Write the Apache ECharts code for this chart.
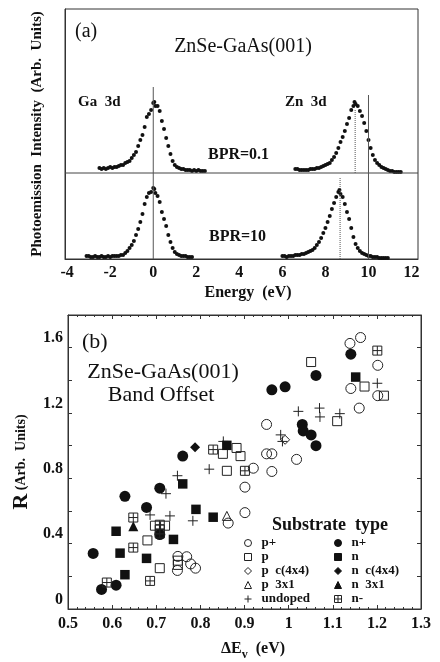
<!DOCTYPE html>
<html lang="en">
<head>
<meta charset="UTF-8">
<title>ZnSe-GaAs(001)</title>
<script src="https://cdn.jsdelivr.net/npm/echarts@6/dist/echarts.min.js"></script>
<style>
  html, body { margin: 0; padding: 0; background: #fff; }
  #main { width: 440px; height: 662px; }
</style>
</head>
<body>
<div id="main"></div>
<script>
// ---- (a) photoemission spectra: [energy (eV), intensity (arb. units)] ----
var ga3dBpr01 = [[-2.5,5],[-2.4,4],[-2.3,5],[-2.2,4],[-2.1,5],[-2.0,6],[-1.9,5],[-1.8,6],[-1.7,6],[-1.6,7],
  [-1.5,8],[-1.4,8],[-1.3,10],[-1.2,11],[-1.1,12],[-1.0,15],[-0.9,18],[-0.8,21],[-0.7,27],[-0.6,33],
  [-0.5,38],[-0.4,46],[-0.3,56],[-0.2,59],[-0.1,63],[0.0,70],[0.05,71],[0.1,67],[0.2,67],[0.3,62],
  [0.4,52],[0.5,44],[0.6,35],[0.7,27],[0.8,19],[0.9,12],[1.0,8],[1.1,6],[1.2,5],[1.3,4],
  [1.4,4],[1.5,3],[1.6,3],[1.7,3],[1.8,2],[1.9,3],[2.0,2],[2.1,3],[2.2,2],[2.3,2],[2.4,2]];
var zn3dBpr01 = [[6.6,4],[6.7,4],[6.8,3],[6.9,3],[7.0,3],[7.1,3],[7.2,3],[7.3,4],[7.4,4],[7.5,4],
  [7.6,5],[7.7,5],[7.8,6],[7.9,7],[8.0,8],[8.1,9],[8.2,10],[8.3,13],[8.4,16],[8.5,20],
  [8.6,25],[8.7,31],[8.8,36],[8.9,42],[9.0,49],[9.1,55],[9.2,63],[9.3,67],[9.35,71],[9.4,69],
  [9.5,67],[9.6,62],[9.7,57],[9.8,50],[9.9,42],[10.0,33],[10.1,25],[10.2,18],[10.3,13],[10.4,10],
  [10.5,8],[10.6,6],[10.7,5],[10.8,4],[10.9,3],[11.0,2],[11.1,2],[11.2,1],[11.3,1],[11.4,1],[11.5,1]];
var ga3dBpr10 = [[-3.1,3],[-3.0,3],[-2.9,2],[-2.8,2],[-2.7,3],[-2.6,2],[-2.5,2],[-2.4,3],[-2.3,2],[-2.2,2],
  [-2.1,3],[-2.0,2],[-1.9,3],[-1.8,3],[-1.7,3],[-1.6,3],[-1.5,4],[-1.4,4],[-1.3,6],[-1.2,8],
  [-1.1,11],[-1.0,14],[-0.9,18],[-0.8,24],[-0.7,30],[-0.6,37],[-0.5,45],[-0.4,55],[-0.3,62],[-0.2,66],
  [-0.1,67],[0.0,71],[0.05,70],[0.1,66],[0.2,63],[0.3,57],[0.4,47],[0.5,40],[0.6,33],[0.7,24],
  [0.8,17],[0.9,11],[1.0,7],[1.1,5],[1.2,4],[1.3,3],[1.4,3],[1.5,3],[1.6,2],[1.7,2],[1.8,2]];
var zn3dBpr10 = [[6.0,3],[6.1,3],[6.2,2],[6.3,3],[6.4,3],[6.5,3],[6.6,4],[6.7,4],[6.8,4],[6.9,5],
  [7.0,5],[7.1,6],[7.2,7],[7.3,8],[7.4,9],[7.5,11],[7.6,14],[7.7,17],[7.8,21],[7.9,26],
  [8.0,31],[8.1,37],[8.2,43],[8.3,50],[8.4,56],[8.5,62],[8.6,67],[8.65,69],[8.7,65],[8.8,62],
  [8.9,55],[9.0,47],[9.1,40],[9.2,31],[9.3,22],[9.4,15],[9.5,11],[9.6,8],[9.7,6],[9.8,5],
  [9.9,4],[10.0,3],[10.1,3],[10.2,2],[10.3,2],[10.4,2],[10.5,1],[10.6,1],[10.7,1],[10.8,1],[10.9,1]];
var bpr01Offset = 86;              // vertical offset of the BPR=0.1 spectra
var energyMin = -4.1, energyMax = 12.3, intensityMax = 250;
var energyLabels = [-4, -2, 0, 2, 4, 6, 8, 10, 12];
// [energy, from, to, line type]
var refLines = [[0, 0, 172, 'solid'], [10, 0, 164, 'solid'], [9.38, 86, 149, 'dotted'], [8.68, 0, 82, 'dotted']];

// ---- (b) R vs valence band offset: [dEv (eV), R (arb. units)] ----
var pPlus = [[0.749,0.322],[0.769,0.320],[0.748,0.236],[0.778,0.276],[0.789,0.250],[0.863,0.526],[0.901,0.590],
  [0.901,0.746],[0.920,0.862],[0.950,0.950],[0.962,0.950],[0.962,0.842],[0.950,1.130],[1.018,0.916],
  [1.139,1.626],[1.163,1.662],[1.202,1.492],[1.141,1.350],[1.160,1.230],[1.202,1.306]];
var pType = [[0.680,0.420],[0.708,0.250],[0.697,0.510],[0.720,0.510],[0.749,0.296],[0.749,0.270],[0.851,0.950],
  [0.882,0.986],[0.891,0.936],[0.860,0.846],[1.051,1.512],[1.110,1.150],[1.172,1.362],[1.216,1.306]];
var pC4x4 = [[0.992,1.036]];
var p3x1 = [[0.860,0.570]];
var undoped = [[0.686,0.576],[0.722,0.706],[0.731,0.570],[0.748,0.816],[0.783,0.540],[0.820,0.856],[0.852,1.026],
  [0.982,1.066],[0.986,1.026],[1.022,1.210],[1.070,1.230],[1.071,1.176],[1.116,1.196],[1.201,1.382]];
var nPlus = [[0.557,0.340],[0.576,0.120],[0.609,0.146],[0.629,0.690],[0.678,0.622],[0.708,0.740],[0.708,0.456],
  [0.760,0.936],[0.962,1.342],[0.992,1.360],[1.062,1.430],[1.141,1.560],[1.031,1.130],[1.033,1.090],
  [1.051,1.066],[1.062,1.000]];
var nType = [[0.609,0.476],[0.618,0.342],[0.629,0.210],[0.678,0.310],[0.739,0.426],[0.760,0.766],[0.790,0.610],
  [0.829,0.562],[0.860,1.002],[1.152,1.420]];
var nC4x4 = [[0.788,0.990]];
var n3x1 = [[0.648,0.506]];
var nMinus = [[0.588,0.162],[0.648,0.560],[0.648,0.376],[0.686,0.172],[0.708,0.516],[0.708,0.486],[0.708,0.462],
  [0.829,0.976],[0.901,0.846],[1.201,1.582]];
var rLabels = [0, 0.4, 0.8, 1.2, 1.6];

var serif = '"Liberation Serif", "DejaVu Serif", serif';
var ink = '#111';
var plusPath = 'path://M5,0L5,10M0,5L10,5';
var boxPlusPath = 'path://M0,0L10,0L10,10L0,10ZM5,0L5,10M0,5L10,5';

var myChart = echarts.init(document.getElementById('main'));

function spectrum(data, offset) {
  return {
    type: 'scatter', xAxisIndex: 0, yAxisIndex: 0, silent: true,
    symbol: 'circle', symbolSize: 4, itemStyle: { color: ink, opacity: 1 },
    data: data.map(function (p) { return [p[0], p[1] + offset]; })
  };
}

function marks(name, data, symbol, size, filled) {
  return {
    type: 'scatter', name: name, xAxisIndex: 1, yAxisIndex: 1, silent: true,
    symbol: symbol, symbolSize: size, data: data,
    itemStyle: filled ? { color: ink, borderColor: ink, borderWidth: 0, opacity: 1 }
                      : { color: 'rgba(255,255,255,0)', borderColor: '#222', borderWidth: 1, opacity: 1 }
  };
}

var series = [
  spectrum(ga3dBpr01, bpr01Offset), spectrum(zn3dBpr01, bpr01Offset),
  spectrum(ga3dBpr10, 0), spectrum(zn3dBpr10, 0),
  {
    type: 'line', xAxisIndex: 0, yAxisIndex: 0, silent: true, symbol: 'none',
    lineStyle: { color: '#444', width: 1 },
    data: [[energyMin, bpr01Offset], [energyMax, bpr01Offset]]
  }
];
refLines.forEach(function (l) {
  series.push({
    type: 'line', xAxisIndex: 0, yAxisIndex: 0, silent: true, symbol: 'none',
    lineStyle: { color: '#555', width: 1, type: l[3] },
    data: [[l[0], l[1]], [l[0], l[2]]]
  });
});
series.push(
  marks('p+', pPlus, 'circle', 10, false),
  marks('p', pType, 'rect', 9, false),
  marks('p  c(4x4)', pC4x4, 'diamond', 9, false),
  marks('p  3x1', p3x1, 'triangle', 9, false),
  marks('undoped', undoped, plusPath, 10, false),
  marks('n+', nPlus, 'circle', 11, true),
  marks('n', nType, 'rect', 9.5, true),
  marks('n  c(4x4)', nC4x4, 'diamond', 10, true),
  marks('n  3x1', n3x1, 'triangle', 10, true),
  marks('n-', nMinus, boxPlusPath, 9, false)
);

var legendBase = {
  orient: 'vertical', top: 536, padding: 0, itemGap: 0,
  itemWidth: 7, itemHeight: 7, selectedMode: false,
  itemStyle: { borderWidth: 1 },
  textStyle: { fontFamily: serif, fontWeight: 'bold', fontSize: 13, color: ink, lineHeight: 14, padding: [0, 0, 0, 5] }
};

function txt(x, y, text, font, align) {
  return {
    type: 'text', x: x, y: y, silent: true,
    style: { text: text, font: font, fill: ink, align: align, verticalAlign: 'middle',
             textAlign: align, textVerticalAlign: 'middle' }
  };
}

myChart.setOption({
  animation: false,
  grid: [
    { left: 65, right: 22, top: 9, bottom: 403, show: true, borderColor: '#333', borderWidth: 1 },
    { left: 68, right: 19, top: 315, bottom: 48, show: true, borderColor: '#333', borderWidth: 1 }
  ],
  xAxis: [
    {
      gridIndex: 0, type: 'value', min: energyMin, max: energyMax,
      axisLine: { show: true, onZero: false, lineStyle: { color: '#333' } },
      axisTick: { show: false }, splitLine: { show: false },
      axisLabel: { customValues: energyLabels, margin: 6, fontFamily: serif, fontWeight: 'bold', fontSize: 16, color: ink },
      name: 'Energy  (eV)', nameLocation: 'middle', nameGap: 26,
      nameTextStyle: { fontFamily: serif, fontWeight: 'bold', fontSize: 16, color: ink, padding: [0, 0, 0, 13] }
    },
    {
      gridIndex: 1, type: 'value', min: 0.5, max: 1.3, interval: 0.1, position: 'bottom',
      axisLine: { show: true, onZero: false, lineStyle: { color: '#333' } },
      axisTick: { show: true, inside: true, length: 4, lineStyle: { color: '#333' } },
      minorTick: { show: true, splitNumber: 5, length: 2, lineStyle: { color: '#333' } },
      splitLine: { show: false },
      axisLabel: { margin: 7, fontFamily: serif, fontWeight: 'bold', fontSize: 16, color: ink },
      name: '{a|ΔE}{s|v}{a|  (eV)}', nameLocation: 'middle', nameGap: 28,
      nameTextStyle: {
        padding: [0, 0, 0, 17],
        rich: {
          a: { fontFamily: serif, fontWeight: 'bold', fontSize: 16, color: ink },
          s: { fontFamily: serif, fontWeight: 'bold', fontSize: 12, color: ink, verticalAlign: 'bottom', padding: [12, 0, 0, 0] }
        }
      }
    },
    {
      gridIndex: 1, type: 'value', min: 0.5, max: 1.3, interval: 0.1, position: 'top',
      axisLine: { show: true, onZero: false, lineStyle: { color: '#333' } },
      axisTick: { show: true, inside: true, length: 4, lineStyle: { color: '#333' } },
      minorTick: { show: true, splitNumber: 5, length: 2, lineStyle: { color: '#333' } },
      splitLine: { show: false }, axisLabel: { show: false }
    }
  ],
  yAxis: [
    {
      gridIndex: 0, type: 'value', min: 0, max: intensityMax,
      axisLine: { show: true, onZero: false, lineStyle: { color: '#333' } },
      axisTick: { show: false }, axisLabel: { show: false }, splitLine: { show: false },
      name: 'Photoemission  Intensity  (Arb.  Units)', nameLocation: 'middle', nameGap: 20,
      nameTextStyle: { fontFamily: serif, fontWeight: 'bold', fontSize: 15, color: ink }
    },
    {
      gridIndex: 1, type: 'value', min: 0, max: 1.8, interval: 0.2,
      axisLine: { show: true, onZero: false, lineStyle: { color: '#333' } },
      axisTick: { show: true, inside: true, length: 4, lineStyle: { color: '#333' } },
      splitLine: { show: false },
      axisLabel: {
        margin: 5, verticalAlign: 'bottom', lineHeight: 19,
        fontFamily: serif, fontWeight: 'bold', fontSize: 16, color: ink,
        formatter: function (v) {
          for (var i = 0; i < rLabels.length; i++) {
            if (Math.abs(rLabels[i] - v) < 1e-6) return v === 0 ? '0' : v.toFixed(1);
          }
          return '';
        }
      },
      name: '{r|R}{u| (Arb.  Units)}', nameLocation: 'middle', nameGap: 29,
      nameTextStyle: {
        rich: {
          r: { fontFamily: serif, fontWeight: 'bold', fontSize: 22, color: ink },
          u: { fontFamily: serif, fontWeight: 'bold', fontSize: 14, color: ink }
        }
      }
    },
    {
      gridIndex: 1, type: 'value', min: 0, max: 1.8, interval: 0.2, position: 'right',
      axisLine: { show: true, onZero: false, lineStyle: { color: '#333' } },
      axisTick: { show: true, inside: true, length: 4, lineStyle: { color: '#333' } },
      splitLine: { show: false }, axisLabel: { show: false }
    }
  ],
  legend: [
    echarts.util.merge({ left: 244, data: ['p+', 'p', 'p  c(4x4)', 'p  3x1', 'undoped'] }, legendBase),
    echarts.util.merge({ left: 334, data: ['n+', 'n', 'n  c(4x4)', 'n  3x1', 'n-'] }, legendBase)
  ],
  graphic: [
    txt(75, 32, '(a)', '20px ' + serif, 'left'),
    txt(243, 47, 'ZnSe-GaAs(001)', '20px ' + serif, 'center'),
    txt(78, 102, 'Ga  3d', 'bold 15px ' + serif, 'left'),
    txt(285, 102, 'Zn  3d', 'bold 15px ' + serif, 'left'),
    txt(208, 155, 'BPR=0.1', 'bold 16px ' + serif, 'left'),
    txt(209, 237, 'BPR=10', 'bold 16px ' + serif, 'left'),
    txt(82, 342, '(b)', '22px ' + serif, 'left'),
    txt(163, 372, 'ZnSe-GaAs(001)', '22px ' + serif, 'center'),
    txt(161, 395, 'Band Offset', '22px ' + serif, 'center'),
    txt(272, 525, 'Substrate  type', 'bold 18px ' + serif, 'left')
  ],
  series: series
});
</script>
</body>
</html>
